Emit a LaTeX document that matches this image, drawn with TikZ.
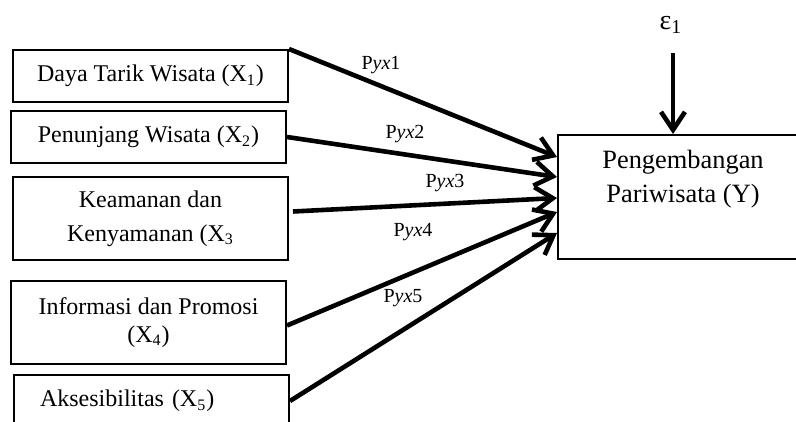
\documentclass[tikz,border=0pt]{standalone}
\usepackage{fontspec}
\setmainfont{Liberation Serif}
\usetikzlibrary{arrows.meta,calc}

\begin{document}
\begin{tikzpicture}[x=0.5pt,y=-0.5pt,
  box/.style={draw,line width=1pt,minimum width=137.5pt,inner sep=0pt,align=center,
    font=\fontsize{12}{17}\selectfont},
  effect/.style={line width=2.3pt,-{Straight Barb[length=9pt,width=12pt,line width=2.3pt]}},
  coef/.style={font=\fontsize{10}{12}\selectfont,inner sep=0pt}]
\clip (0,0) rectangle (796,422);

% exogenous variables
\node[box,minimum height=26pt] (x1) at (150.5,76) {Daya Tarik Wisata (X\textsubscript{1})};
\node[box,minimum height=26pt] (x2) at (148.5,137) {Penunjang Wisata (X\textsubscript{2})};
\node[box,minimum height=41.5pt] (x3) at (150.5,218.5) {Keamanan dan\\Kenyamanan (X\textsubscript{3}};
\node[box,minimum height=41.5pt,font=\fontsize{12}{14}\selectfont] (x4) at (148.5,322.5)
  {Informasi dan Promosi\\(X\textsubscript{4})};
\node[box,minimum height=26pt,text width=111.5pt,align=left,inner xsep=13pt] (x5) at (151.5,401)
  {Aksesibilitas (X\textsubscript{5})};

% endogenous variable
\node[box,minimum width=125pt,minimum height=62pt] (y) at (683,197) {};
\node[font=\fontsize{13.2}{17}\selectfont,align=center,inner sep=0pt] (ytext) at (683,179)
  {Pengembangan\\Pariwisata (Y)};

% residual
\node[font=\fontsize{14}{16}\selectfont,inner sep=0pt] (eps) at (671,25) {ε\textsubscript{1}};
\coordinate (epsfoot) at (673,53);
\draw[effect] (epsfoot) -- (epsfoot |- y.north);

% path coefficients
\draw[effect] (x1.north east) -- ($(y.west)+(0,-40)$);
\draw[effect] (x2.east) -- ($(y.west)+(0,-20)$);
\draw[effect] ($(x3.east)+(4,-7)$) -- ($(y.west)+(0,1)$);
\draw[effect] ($(x4.east)+(0,3)$) -- ($(y.west)+(0,15)$);
\draw[effect] (x5.east) -- ($(y.west)+(0,36)$);

\node[coef] (p1) at (381,65) {P\textit{yx}1};
\node[coef] (p2) at (405,134) {P\textit{yx}2};
\node[coef] (p3) at (445,183) {P\textit{yx}3};
\node[coef] (p4) at (413,232) {P\textit{yx}4};
\node[coef] (p5) at (403,298) {P\textit{yx}5};
\end{tikzpicture}
\end{document}
